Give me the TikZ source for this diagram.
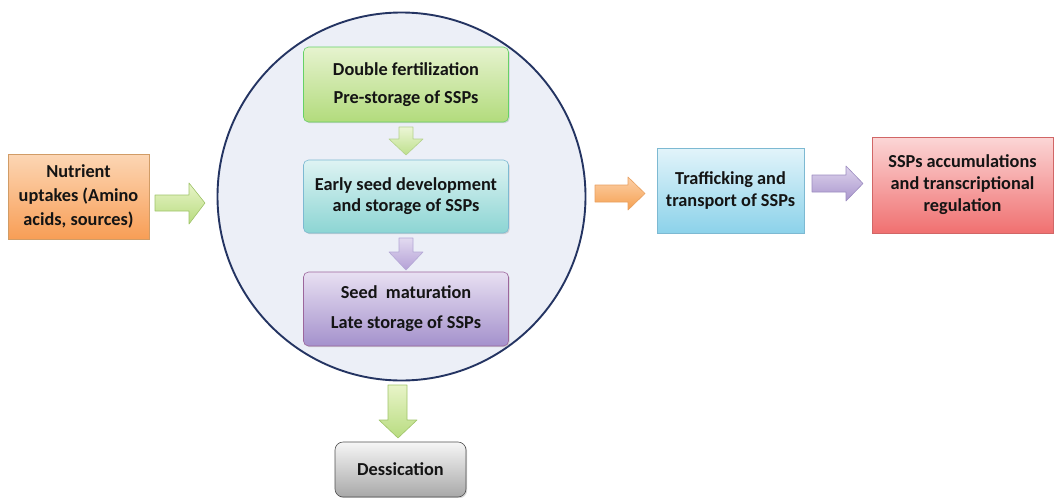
\documentclass[tikz,border=0pt]{standalone}
\usepackage{fontspec}
\setmainfont{Carlito}
\usetikzlibrary{shadows}
\definecolor{txt}{HTML}{141414}
\tikzset{
  box/.style={draw=#1!70!black!60, line width=0.6pt, align=center, font=\fontsize{18.3}{22}\selectfont\bfseries, text=txt, inner sep=0pt,
    drop shadow={shadow xshift=1.2pt, shadow yshift=-1.2pt, fill=black!30, opacity=0.5}},
  rbox/.style={box=#1, rounded corners=5pt},
  barrow/.style={line width=0.6pt, line join=round},
}
\begin{document}
\begin{tikzpicture}[x=1pt,y=-1pt]
\useasboundingbox (0,0) rectangle (1055,498);
% circle
\node[circle, draw={rgb,255:red,36;green,52;blue,98}, line width=1.9pt, fill={rgb,255:red,236;green,239;blue,247}, minimum size=368pt, inner sep=0pt] (circ) at (401.5,196.5) {};

% boxes inside circle
\node[rbox=green, top color={rgb,255:red,230;green,243;blue,207}, bottom color={rgb,255:red,178;green,219;blue,124}, minimum width=205pt, minimum height=75pt] (dbl) at (406,84.5) {\raisebox{-1pt}{Double fertilization}\\[7pt]Pre-storage of SSPs};
\node[rbox=cyan, top color={rgb,255:red,222;green,243;blue,243}, bottom color={rgb,255:red,140;green,213;blue,211}, minimum width=205pt, minimum height=73pt] (early) at (406,196.5) {Early seed development\\[-1pt]and storage of SSPs};
\node[rbox=violet, top color={rgb,255:red,232;green,224;blue,242}, bottom color={rgb,255:red,164;green,145;blue,204}, minimum width=205pt, minimum height=74pt] (mat) at (406,309) {\raisebox{-2pt}{Seed\ \ maturation}\\[8pt]\raisebox{-2pt}{Late storage of SSPs}};

% outer boxes
\node[box=orange, top color={rgb,255:red,252;green,214;blue,180}, bottom color={rgb,255:red,248;green,158;blue,86}, minimum width=141pt, minimum height=85pt, font=\fontsize{18.3}{24}\selectfont\bfseries] (nut) at (78.5,196.5) {Nutrient\\uptakes (Amino\\acids, sources)};
\node[box=cyan, top color={rgb,255:red,226;green,244;blue,250}, bottom color={rgb,255:red,140;green,210;blue,234}, minimum width=147pt, minimum height=85pt] (traf) at (730.5,190.5) {Trafficking and\\transport of SSPs};
\node[box=red, top color={rgb,255:red,251;green,214;blue,214}, bottom color={rgb,255:red,240;green,112;blue,112}, minimum width=181pt, minimum height=96pt] (ssp) at (962.5,185) {\raisebox{-2pt}{\parbox{181pt}{\centering SSPs accumulations\\and transcriptional\\regulation}}};
\node[rbox=black, draw={rgb,255:red,80;green,80;blue,80}, top color={rgb,255:red,246;green,246;blue,246}, bottom color={rgb,255:red,168;green,168;blue,168}, minimum width=131pt, minimum height=55pt, rounded corners=8pt] (des) at (400.5,469.5) {Dessication};

% block arrows
% nut -> circle (green)
\draw[barrow, draw={rgb,255:red,160;green,196;blue,106}, top color={rgb,255:red,232;green,244;blue,200}, bottom color={rgb,255:red,184;green,220;blue,128}]
  (155,195) -- (189,195) -- (189,183) -- (205,203) -- (189,224) -- (189,211) -- (155,211) -- cycle;
% circle -> traf (orange)
\draw[barrow, draw={rgb,255:red,232;green,160;blue,96}, top color={rgb,255:red,252;green,208;blue,168}, bottom color={rgb,255:red,245;green,160;blue,80}]
  (595,185) -- (628,185) -- (628,177) -- (645,193.5) -- (628,210) -- (628,202) -- (595,202) -- cycle;
% traf -> ssp (purple)
\draw[barrow, draw={rgb,255:red,156;green,140;blue,192}, top color={rgb,255:red,222;green,212;blue,238}, bottom color={rgb,255:red,169;green,150;blue,204}]
  (812,175) -- (846,175) -- (846,166) -- (863,183.5) -- (846,201) -- (846,192) -- (812,192) -- cycle;
% dbl -> early (green down)
\draw[barrow, draw={rgb,255:red,180;green,210;blue,140}, top color={rgb,255:red,236;green,246;blue,214}, bottom color={rgb,255:red,190;green,224;blue,140}]
  (399,127) -- (413,127) -- (413,139) -- (423,139) -- (406,155) -- (389,139) -- (399,139) -- cycle;
% early -> mat (purple down)
\draw[barrow, draw={rgb,255:red,180;green,168;blue,214}, top color={rgb,255:red,226;green,218;blue,240}, bottom color={rgb,255:red,180;green,160;blue,214}]
  (399,238) -- (413,238) -- (413,252) -- (423,252) -- (406,270) -- (389,252) -- (399,252) -- cycle;
% circle -> des (green down)
\draw[barrow, draw={rgb,255:red,160;green,196;blue,106}, top color={rgb,255:red,232;green,244;blue,200}, bottom color={rgb,255:red,184;green,220;blue,128}]
  (388,385) -- (407,385) -- (407,420) -- (417,420) -- (398,438) -- (379,420) -- (388,420) -- cycle;
\end{tikzpicture}
\end{document}
